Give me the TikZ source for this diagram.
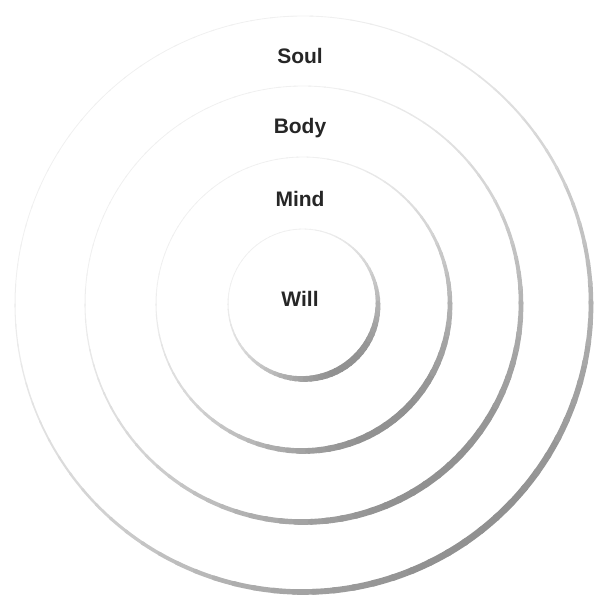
\documentclass[tikz,border=0pt]{standalone}
\usepackage{fontspec}
\setmainfont{Liberation Sans}
\usepackage{tikz}
\usetikzlibrary{positioning,calc}

\begin{document}
\begin{tikzpicture}[
    x=1pt, y=1pt,
    ringLabel/.style={font=\fontsize{21}{25}\selectfont\bfseries, text=black!85, inner sep=1pt},
    ringStroke/.style={line cap=round}
]
    \useasboundingbox (0,0) rectangle (594,604);
    \coordinate (ctr) at (303,300);

    % Rings: light at top-left, heavy shadow at bottom-right
    \foreach \r in {75,147,218,288} {
        \foreach \a in {0,4,...,356} {
            \pgfmathsetmacro{\t}{(1+cos(\a+55))/2}
            \pgfmathsetmacro{\g}{int(6+38*\t*\t)}
            \pgfmathsetmacro{\w}{0.8+6*\t*\t}
            \draw[ringStroke, line width=\w pt, draw=black!\g]
                ([shift={(\a:\r)}]ctr) arc[start angle=\a, end angle=\a+4.5, radius=\r];
        }
    }

    % Labels
    \node[ringLabel] (will) at (300,305) {Will};
    \node[ringLabel] (mind) at (300,405) {Mind};
    \node[ringLabel] (body) at (300,476) {Body};
    \node[ringLabel] (soul) at (300,548) {Soul};
\end{tikzpicture}
\end{document}
